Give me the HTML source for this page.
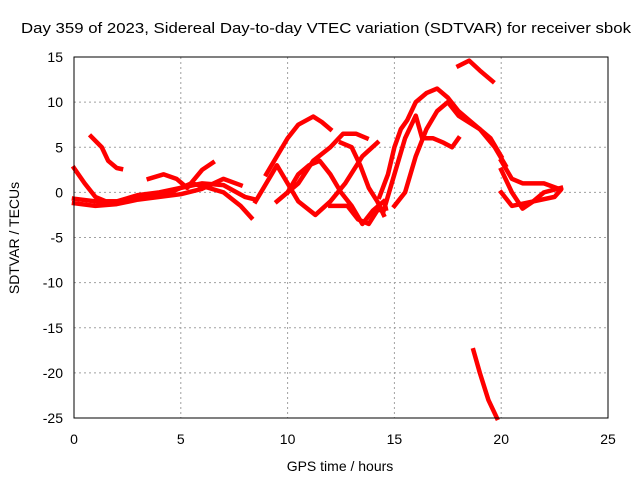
<!DOCTYPE html>
<html><head><meta charset="utf-8"><style>
body{margin:0;background:#fff;}
svg{display:block;font-family:"Liberation Sans",sans-serif;}
</style></head><body>
<svg id="chart" width="640" height="480">
<text x="326" y="33" font-size="15" textLength="610" lengthAdjust="spacingAndGlyphs" text-anchor="middle">Day 359 of 2023, Sidereal Day-to-day VTEC variation (SDTVAR) for receiver sbok</text>
<g id="grid"></g><g id="series"></g>
<rect x="74" y="57" width="534" height="361" fill="none" stroke="#000" stroke-width="1"/>
<g id="ticks" font-size="14"></g>
<text x="340" y="471" font-size="14" text-anchor="middle">GPS time / hours</text>
<text transform="translate(19,238) rotate(-90)" font-size="14" text-anchor="middle">SDTVAR / TECUs</text>
</svg>
<script>
const xTicks=[0,5,10,15,20,25];
const yTicks=[15,10,5,0,-5,-10,-15,-20,-25];
const trackA=[[0,2.7],[0.5,1],[1,-0.5],[1.5,-1],[2.5,-1],[3.5,-0.5],[4.5,0],[5.5,1],[6.3,0.5],[7,0],[7.8,-1.5],[8.3,-2.8]];
const trackB=[[0,-0.7],[1,-1],[2,-1],[3,-0.3],[4,0],[5,0.5],[6,1],[7,0.8],[8,-0.5],[8.5,-0.8]];
const trackC=[[0,-1.2],[1,-1.5],[2,-1.3],[3,-0.8],[4,-0.5],[5,-0.2],[6,0.4],[7,1.5],[7.8,0.8]];
const trackD=[[0.8,6.2],[1.3,5],[1.6,3.5],[2,2.7],[2.2,2.6]];
const trackE=[[3.5,1.5],[4.2,2],[4.8,1.5],[5.3,0.5],[6,2.5],[6.5,3.3]];
const trackF=[[9,2],[9.5,4],[10,6],[10.5,7.5],[11.2,8.4],[11.6,7.8],[12,7]];
const trackG=[[8.5,-1],[9,1],[9.5,3],[10,1],[10.5,-1],[11.3,-2.5],[12,-1],[12.7,1],[13.5,4],[14.2,5.5]];
const trackH=[[9.5,-1],[10.5,1],[11.2,3.5],[12,5],[12.6,6.5],[13.2,6.5],[13.7,6]];
const trackI=[[10,0],[10.5,2],[11,3],[11.5,3.5],[12,2],[12.5,0],[13,-1.5],[13.5,-3.5],[14,-2],[14.5,-1]];
const trackJ=[[12.5,5.5],[13,5],[13.4,3],[13.8,0.5],[14.2,-1],[14.5,-2.5]];
const trackK=[[12,-1.5],[12.8,-1.5],[13.3,-3],[13.8,-3.5],[14.2,-2],[14.6,-1.8]];
const trackL=[[14.3,-0.5],[14.7,2],[15,5],[15.3,7],[15.6,8],[16,10],[16.5,11],[17,11.5],[17.5,10.5],[18,9],[18.5,8],[19,7],[19.5,6],[20,4]];
const trackM=[[14.5,-2],[15,2],[15.5,6],[16,8.5],[16.3,6],[16.8,6],[17.3,5.5],[17.7,5],[18,6]];
const trackN=[[15,-1.5],[15.5,0],[16,4],[16.5,7],[17,9],[17.5,10],[18,8.5],[19,7],[19.7,5],[20.2,3]];
const trackO=[[18,14],[18.5,14.6],[19,13.5],[19.6,12.3]];
const trackP=[[20,3.5],[20.5,1.5],[21,1],[22,1],[22.8,0.3],[22.5,-0.5],[21.5,-1],[20.5,-1.5],[20,0]];
const trackR=[[20,2.5],[20.5,0],[21,-1.8],[21.5,-1],[22,0],[22.8,0.5]];
const trackQ=[[18.7,-17.5],[19,-20],[19.4,-23],[19.8,-25]];
const tracks=[trackA,trackB,trackC,trackD,trackE,trackF,trackG,trackH,trackI,trackJ,trackK,trackL,trackM,trackN,trackO,trackP,trackR,trackQ];
const NS="http://www.w3.org/2000/svg";
const X=h=>74+h/25*534, Y=v=>57+(15-v)/40*361;
const grid=document.getElementById('grid'),ticks=document.getElementById('ticks'),ser=document.getElementById('series');
function mk(tag,attrs,parent){const e=document.createElementNS(NS,tag);for(const k in attrs)e.setAttribute(k,attrs[k]);parent.appendChild(e);return e;}
xTicks.forEach(t=>{
  const x=X(t);
  if(t>0&&t<25){const g=mk('line',{x1:x,x2:x,y1:57,y2:418,stroke:'#a0a0a0','stroke-dasharray':'2,3'},grid);
  
  }
  const l=mk('text',{x:x,y:444,'text-anchor':'middle'},ticks);l.textContent=t;
  
  
});
yTicks.forEach(t=>{
  const y=Y(t);
  if(t<15&&t>-25){const g=mk('line',{x1:74,x2:608,y1:y,y2:y,stroke:'#a0a0a0','stroke-dasharray':'2,3'},grid);
  
  }
  const l=mk('text',{x:63,y:y+5,'text-anchor':'end'},ticks);l.textContent=t;
  
  
});
tracks.forEach(tr=>{
  const p=mk('polyline',{points:tr.map(d=>X(d[0])+','+Y(d[1])).join(' '),fill:'none',stroke:'#ff0000','stroke-width':4.5,'stroke-linejoin':'round','stroke-linecap':'square'},ser);
  
  
});
</script>
</body></html>
